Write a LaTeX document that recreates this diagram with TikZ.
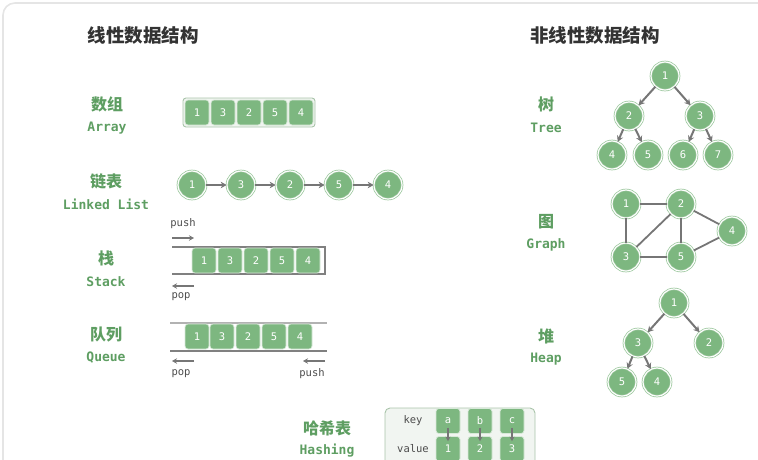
\documentclass[tikz,border=0pt]{standalone}
\usepackage{fontspec}
\setmainfont{DejaVu Sans}
\newfontfamily\cjk{Noto Sans CJK SC}
\newfontfamily\mono{DejaVu Sans Mono}
\usetikzlibrary{arrows.meta}
\definecolor{G}{HTML}{7DB780}
\definecolor{Gd}{HTML}{96C498}
\definecolor{GL}{HTML}{5E9E62}
\definecolor{AR}{HTML}{767676}
\definecolor{TT}{HTML}{333333}
\definecolor{BX}{HTML}{F1F5F1}
\definecolor{BXd}{HTML}{A9C4AA}
\tikzset{
  title/.style={font=\cjk\bfseries\fontsize{18.5}{22}\selectfont, text=TT},
  cnlab/.style={font=\cjk\bfseries\fontsize{16}{19}\selectfont, text=GL},
  enlab/.style={font=\mono\bfseries\fontsize{13}{15}\selectfont, text=GL},
  cell/.style={rectangle, rounded corners=3pt, fill=G, draw=white!70!G, line width=0.7pt,
    minimum width=24pt, minimum height=25pt, inner sep=0pt, text=white, font=\mono\fontsize{10.5}{12}\selectfont},
  vert/.style={circle, fill=G, draw=Gd, double=white, double distance=1.2pt, line width=0.7pt,
    minimum size=28pt, inner sep=0pt, text=white, font=\mono\fontsize{10.5}{12}\selectfont},
  arr/.style={-{Stealth[length=6pt,width=6.5pt]}, draw=AR, line width=2pt},
  sarr/.style={-{Stealth[length=5pt,width=5.5pt]}, draw=AR, line width=1.7pt},
  edge/.style={draw=AR, line width=1.8pt},
  op/.style={font=\mono\fontsize{10.5}{12}\selectfont, text=black!70},
  wall/.style={draw=black!50, line width=1.2pt},
}
\begin{document}
\begin{tikzpicture}[x=1pt,y=-1pt]
\useasboundingbox (0,0) rectangle (758,459);
\begin{scope}
\clip (0,0) rectangle (758,459);
\draw[black!10, line width=1.6pt, rounded corners=12pt] (3,3) rectangle (800,500);

% titles
\node[title] (t1) at (143,35) {线性数据结构};
\node[title] (t2) at (595,35) {非线性数据结构};

% Array
\node[cnlab] (arrL) at (107,104) {数组};
\node[enlab] (arrE) at (107,128) {Array};
\node[rectangle, rounded corners=3pt, draw=BXd, fill=BX, line width=0.9pt, minimum width=132pt, minimum height=29pt] (arrbox) at (249,112.5) {};
\foreach \v/\x [count=\i] in {1/197,3/223,2/249,5/275,4/301}
  \node[cell] (a\i) at (\x,112.5) {\v};

% Linked list
\node[cnlab] (llL) at (106,181) {链表};
\node[enlab] (llE) at (106,204) {Linked List};
\foreach \v/\x [count=\i] in {1/192,3/241,2/290,5/339,4/388}
  \node[vert] (l\i) at (\x,185) {\v};
\foreach \i/\j in {1/2,2/3,3/4,4/5}
  \draw[arr] (l\i) -- (l\j);

% Stack
\node[cnlab] (stL) at (106,258) {栈};
\node[enlab] (stE) at (106,282) {Stack};
\coordinate (stTL) at (172,247); \coordinate (stTR) at (325,247);
\coordinate (stBL) at (172,274); \coordinate (stBR) at (325,274);
\draw[wall] (stTL) -- (stTR) -- (stBR) -- (stBL);
\foreach \v/\x [count=\i] in {1/204,3/230,2/256,5/282,4/308}
  \node[cell] (s\i) at (\x,260.5) {\v};
\node[op] (spush) at (183,224) {push};
\coordinate (sp1) at (172,238); \coordinate (sp2) at (194,238);
\draw[sarr] (sp1) -- (sp2);
\coordinate (so1) at (194,286); \coordinate (so2) at (172,286);
\draw[sarr] (so1) -- (so2);
\node[op] (spop) at (181,297) {pop};

% Queue
\node[cnlab] (quL) at (106,335) {队列};
\node[enlab] (quE) at (106,358) {Queue};
\coordinate (qTL) at (170,323); \coordinate (qTR) at (327,323);
\coordinate (qBL) at (170,351); \coordinate (qBR) at (327,351);
\draw[draw=black!30, line width=1.2pt] (qTL) -- (qTR);
\draw[wall] (qBL) -- (qBR);
\foreach \v/\x [count=\i] in {1/197,3/222,2/248,5/274,4/300}
  \node[cell] (q\i) at (\x,336.5) {\v};
\coordinate (qo1) at (194,361); \coordinate (qo2) at (172,361);
\draw[sarr] (qo1) -- (qo2);
\node[op] (qpop) at (181,374) {pop};
\coordinate (qp1) at (325,361); \coordinate (qp2) at (303,361);
\draw[sarr] (qp1) -- (qp2);
\node[op] (qpush) at (312,374) {push};

% Hashing
\node[cnlab] (haL) at (327,428) {哈希表};
\node[enlab] (haE) at (327,451) {Hashing};
\draw[draw=BXd, fill=BX, line width=0.9pt, rounded corners=5pt] (385,408) rectangle (535,480);
\node[op] (hkey) at (413,421) {key};
\node[op] (hval) at (413,449) {value};
\foreach \k/\v/\x in {a/1/448,b/2/480,c/3/512} {
  \node[cell] (k\k) at (\x,421) {\k};
  \node[cell] (v\k) at (\x,449) {\v};
  \draw[-{Stealth[length=4.5pt,width=5pt]}, draw=AR, line width=1.5pt] ([yshift=6pt]k\k.south) -- ([yshift=-5pt]v\k.north);
}

% Tree
\node[cnlab] (trL) at (546,104) {树};
\node[enlab] (trE) at (546,128) {Tree};
\node[vert] (t1n) at (665,76) {1};
\node[vert] (t2n) at (629,116) {2};
\node[vert] (t3n) at (700,116) {3};
\node[vert] (t4n) at (612,155) {4};
\node[vert] (t5n) at (648,155) {5};
\node[vert] (t6n) at (683,155) {6};
\node[vert] (t7n) at (718,155) {7};
\foreach \a/\b in {1/2,1/3,2/4,2/5,3/6,3/7}
  \draw[arr] (t\a n) -- (t\b n);

% Graph
\node[cnlab] (grL) at (546,222) {图};
\node[enlab] (grE) at (546,245) {Graph};
\node[vert] (g1) at (626,204) {1};
\node[vert] (g2) at (681,204) {2};
\node[vert] (g4) at (732,231) {4};
\node[vert] (g3) at (626,257) {3};
\node[vert] (g5) at (681,257) {5};
\foreach \a/\b in {1/2,1/3,2/3,2/5,2/4,3/5,5/4}
  \draw[edge] (g\a) -- (g\b);

% Heap
\node[cnlab] (hpL) at (546,336) {堆};
\node[enlab] (hpE) at (546,359) {Heap};
\node[vert] (h1) at (674,303) {1};
\node[vert] (h3) at (638,343) {3};
\node[vert] (h2) at (709,343) {2};
\node[vert] (h5) at (622,382) {5};
\node[vert] (h4) at (657,382) {4};
\foreach \a/\b in {1/3,1/2,3/5,3/4}
  \draw[arr] (h\a) -- (h\b);
\end{scope}
\end{tikzpicture}
\end{document}
